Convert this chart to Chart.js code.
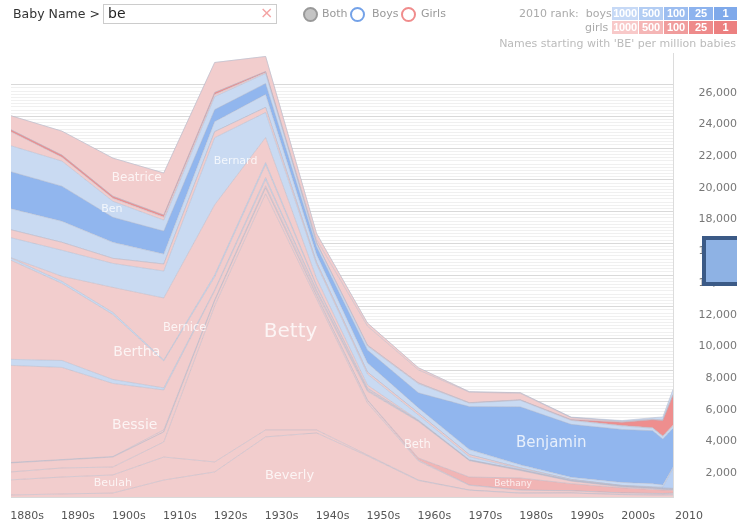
<!DOCTYPE html>
<html>
<head>
  <meta charset="utf-8">
  <title>Baby Name Voyager - be</title>
  <script src="https://cdn.jsdelivr.net/npm/chart.js"></script>
  <style>
    body {
      margin: 0;
      width: 737px;
      height: 524px;
      overflow: hidden;
      background: #fff;
      font-family: "DejaVu Sans", sans-serif;
      position: relative;
    }
    #wrap {
      position: absolute;
      left: 0;
      top: 0;
      width: 737px;
      height: 524px;
    }
    .abs { position: absolute; white-space: nowrap; }
    #search {
      left: 103px; top: 4px; width: 174px; height: 20px;
      border: 1px solid #ccc; box-sizing: border-box;
    }
    .radio {
      width: 11px; height: 11px; border-radius: 50%;
      border: 2px solid #999; box-sizing: content-box;
    }
    .rank {
      height: 13px; line-height: 13px; color: #fff;
      font-family: "Liberation Sans", sans-serif;
      font-size: 11px; font-weight: bold; text-align: center;
      letter-spacing: -0.2px;
    }
    #handle {
      left: 702px; top: 236px; width: 40px; height: 42px;
      background: #8eb2e4; border: 4px solid #3b5a86;
    }
  </style>
</head>
<body>
  <div id="wrap"><canvas id="voyager"></canvas></div>

  <!-- search bar -->
  <div class="abs" style="left:13px;top:6px;font-size:12.5px;color:#333;">Baby Name &gt;</div>
  <div class="abs" id="search"></div>
  <div class="abs" style="left:108px;top:5px;font-size:14px;color:#222;">be</div>
  <div class="abs" style="left:260px;top:3px;font-size:16px;color:#f4a4a4;">&#215;</div>

  <div class="abs radio" style="left:303px;top:7px;background:#c4c4c4;border-color:#999;"></div>
  <div class="abs" style="left:322px;top:7px;font-size:11px;color:#999;">Both</div>
  <div class="abs radio" style="left:350px;top:7px;border-color:#74a2e8;"></div>
  <div class="abs" style="left:372px;top:7px;font-size:11px;color:#999;">Boys</div>
  <div class="abs radio" style="left:401px;top:7px;border-color:#f08c8c;"></div>
  <div class="abs" style="left:421px;top:7px;font-size:11px;color:#999;">Girls</div>

  <!-- 2010 rank key -->
  <div class="abs" style="left:519px;top:7px;font-size:11px;color:#aaa;">2010 rank:&nbsp; boys</div>
  <div class="abs" style="left:585px;top:21px;font-size:11px;color:#aaa;">girls</div>
  <div class="abs rank" style="left:612px;top:7px;width:26px;background:#c6d9f6;">1000</div>
  <div class="abs rank" style="left:639px;top:7px;width:24px;background:#b3cdf3;">500</div>
  <div class="abs rank" style="left:664px;top:7px;width:24px;background:#9cbdf0;">100</div>
  <div class="abs rank" style="left:689px;top:7px;width:24px;background:#8db3ee;">25</div>
  <div class="abs rank" style="left:714px;top:7px;width:23px;background:#7fa9ea;">1</div>
  <div class="abs rank" style="left:612px;top:21px;width:26px;background:#f8c9c9;">1000</div>
  <div class="abs rank" style="left:639px;top:21px;width:24px;background:#f5b6b6;">500</div>
  <div class="abs rank" style="left:664px;top:21px;width:24px;background:#f09c9c;">100</div>
  <div class="abs rank" style="left:689px;top:21px;width:24px;background:#ee8b8b;">25</div>
  <div class="abs rank" style="left:714px;top:21px;width:23px;background:#ec8080;">1</div>
  <div class="abs" style="right:1px;top:37px;font-size:11px;color:#bbb;">Names starting with 'BE' per million babies</div>

  <div class="abs" id="handle"></div>

  <script>
    // ------------------- DATA (per million babies) --------------------
    const years = [1880, 1890, 1900, 1910, 1920, 1930, 1940, 1950, 1960, 1970, 1980, 1990, 2000, 2006, 2008, 2010];

    const beau       = [0, 0, 0, 0, 0, 0, 0, 0, 0, 0, 10, 20, 60, 90, 190, 320];
    const beatrice   = [880, 1510, 2400, 2650, 1890, 950, 380, 190, 130, 30, 30, 20, 20, 20, 20, 30];
    const becky      = [0, 0, 0, 0, 0, 0, 190, 1200, 820, 660, 410, 110, 30, 20, 20, 30];
    const bella      = [130, 130, 130, 130, 130, 60, 20, 10, 10, 10, 10, 30, 200, 500, 970, 1890];
    const belle      = [880, 250, 190, 190, 130, 60, 40, 50, 50, 20, 20, 30, 30, 30, 30, 60];
    const ben        = [1640, 1580, 1010, 690, 820, 630, 190, 250, 570, 220, 410, 250, 220, 160, 160, 130];
    const benjamin   = [2330, 2210, 1580, 1450, 760, 690, 500, 820, 950, 2710, 3660, 3340, 3340, 3340, 2900, 2460];
    const bennie     = [1330, 1330, 1010, 630, 630, 820, 500, 570, 320, 320, 190, 130, 190, 190, 130, 60];
    const bentley    = [0, 0, 0, 0, 0, 0, 0, 0, 0, 0, 0, 0, 0, 30, 60, 1260];
    const bernadette = [500, 500, 320, 440, 380, 320, 130, 130, 130, 130, 60, 30, 20, 20, 20, 20];
    const bernard    = [1260, 1640, 1510, 1700, 4230, 1580, 880, 690, 320, 190, 60, 30, 20, 20, 20, 20];
    const bernice    = [30, 320, 1580, 3910, 4420, 1580, 440, 190, 30, 20, 10, 10, 10, 10, 10, 10];
    const bert       = [130, 130, 130, 60, 130, 130, 60, 30, 10, 10, 10, 10, 10, 10, 10, 10];
    const bertha     = [6250, 4860, 4100, 1700, 820, 820, 250, 90, 20, 10, 10, 10, 10, 10, 10, 10];
    const bertram    = [380, 440, 250, 130, 60, 130, 30, 30, 10, 10, 10, 10, 10, 10, 10, 10];
    const bessie     = [6120, 5810, 4610, 2520, 570, 380, 130, 60, 20, 10, 10, 10, 10, 10, 10, 10];
    const beth       = [30, 30, 30, 130, 60, 130, 190, 540, 2300, 1030, 470, 160, 60, 50, 40, 30];
    const bethany    = [0, 0, 0, 0, 0, 0, 0, 30, 130, 500, 760, 440, 320, 250, 220, 190];
    const bettie     = [570, 500, 630, 630, 320, 380, 190, 160, 60, 20, 10, 10, 10, 10, 10, 10];
    const betty      = [500, 570, 500, 950, 9840, 14890, 8270, 3280, 1200, 300, 180, 130, 90, 90, 80, 90];
    const beulah     = [950, 1070, 1140, 1450, 630, 440, 190, 60, 30, 10, 10, 10, 10, 10, 10, 10];
    const beverly    = [130, 190, 250, 1070, 1580, 3790, 4040, 2590, 1040, 430, 240, 250, 150, 120, 120, 130];

    // name labels anchored at (year, per-million value)
    const labelNames  = ['Beatrice', 'Ben', 'Bernard', 'Bernice', 'Bertha', 'Betty', 'Bessie', 'Beulah', 'Beverly', 'Beth', 'Benjamin', 'Bethany'];
    const labelYears  = [1904.7, 1899.8, 1924.1, 1914.1, 1904.7, 1934.9, 1904.3, 1900, 1934.7, 1959.8, 1986.1, 1978.6];
    const labelValues = [20130, 18170, 21200, 10660, 9150, 10410, 4540, 880, 1330, 3280, 3410, 820];

    // ------------------- STYLE --------------------
    const PINK = '#f2cdcd';
    const PINK2 = '#f1b5b5';
    const RED = '#ee8e8e';
    const LBLUE = '#c9daf2';
    const MBLUE = '#91b6ee';

    // bottom of the stack first
    const layers = [
      ['Beverly', beverly, PINK],
      ['Beulah', beulah, PINK],
      ['Betty', betty, PINK],
      ['Bettie', bettie, PINK],
      ['Bethany', bethany, PINK2],
      ['Beth', beth, PINK],
      ['Bessie', bessie, PINK],
      ['Bertram', bertram, LBLUE],
      ['Bertha', bertha, PINK],
      ['Bert', bert, LBLUE],
      ['Bernice', bernice, PINK],
      ['Bernard', bernard, LBLUE],
      ['Bernadette', bernadette, PINK],
      ['Bentley', bentley, '#b9d0f3'],
      ['Bennie', bennie, LBLUE],
      ['Benjamin', benjamin, MBLUE],
      ['Ben', ben, LBLUE],
      ['Belle', belle, PINK],
      ['Bella', bella, RED],
      ['Becky', becky, PINK],
      ['Beatrice', beatrice, PINK],
      ['Beau', beau, LBLUE]
    ];

    const labelStyle = {
      Beatrice: 12, Ben: 11, Bernard: 11, Bernice: 11.5, Bertha: 14, Betty: 20,
      Bessie: 14, Beulah: 11, Beverly: 13, Beth: 11.5, Benjamin: 15, Bethany: 9
    };

    const datasets = layers.map(([name, vals, color], i) => ({
      label: name,
      data: years.map((yr, j) => ({ x: yr, y: vals[j] })),
      backgroundColor: color,
      borderColor: 'rgba(175,180,198,0.45)',
      borderWidth: 1,
      pointRadius: 0,
      tension: 0,
      fill: i === 0 ? 'origin' : '-1'
    }));

    // names written on top of the areas
    const areaLabels = {
      id: 'areaLabels',
      afterDatasetsDraw(chart) {
        const { ctx, scales } = chart;
        ctx.save();
        ctx.textAlign = 'center';
        ctx.textBaseline = 'middle';
        ctx.fillStyle = 'rgba(255,255,255,0.78)';
        labelNames.forEach((name, i) => {
          ctx.font = labelStyle[name] + 'px "DejaVu Sans"';
          ctx.fillText(name, scales.x.getPixelForValue(labelYears[i]), scales.y.getPixelForValue(labelValues[i]));
        });
        ctx.restore();
      }
    };

    const isMajor = (v) => Math.round(v) % 2000 === 0;

    new Chart(document.getElementById('voyager'), {
      type: 'line',
      data: { datasets },
      options: {
        responsive: true,
        maintainAspectRatio: false,
        animation: false,
        layout: { padding: { top: 53, left: 11, right: 0, bottom: 0 } },
        plugins: {
          legend: { display: false },
          tooltip: { enabled: false }
        },
        scales: {
          x: {
            type: 'linear',
            min: 1880,
            max: 2010,
            grid: { display: false },
            border: { display: false },
            ticks: {
              stepSize: 10,
              autoSkip: false,
              maxRotation: 0,
              labelOffset: 16,
              padding: 5,
              color: '#555',
              font: { family: 'DejaVu Sans', size: 11 },
              callback: (v) => (v === 2010 ? '2010' : v + 's')
            },
            afterFit: (s) => { s.height = 27; s.paddingLeft = 0; s.paddingRight = 0; }
          },
          y: {
            position: 'right',
            stacked: true,
            min: 0,
            max: 28000,
            border: { display: true, color: '#dcdcdc' },
            grid: {
              drawTicks: false,
              color: (c) => {
                const v = Math.round(c.tick.value);
                if (v > 26000) return 'rgba(0,0,0,0)';
                return isMajor(v) ? '#d9d9d9' : '#f0f0f0';
              }
            },
            ticks: {
              stepSize: 200,
              autoSkip: false,
              padding: 21,
              labelOffset: 8,
              crossAlign: 'far',
              color: '#777',
              font: { family: 'DejaVu Sans', size: 11 },
              callback: (v) => {
                const r = Math.round(v);
                return (isMajor(r) && r > 0 && r <= 26000) ? r.toLocaleString('en-US') : '';
              }
            },
            afterFit: (s) => { s.width = 64; s.paddingTop = 0; s.paddingBottom = 0; }
          }
        }
      },
      plugins: [areaLabels]
    });
  </script>
</body>
</html>
